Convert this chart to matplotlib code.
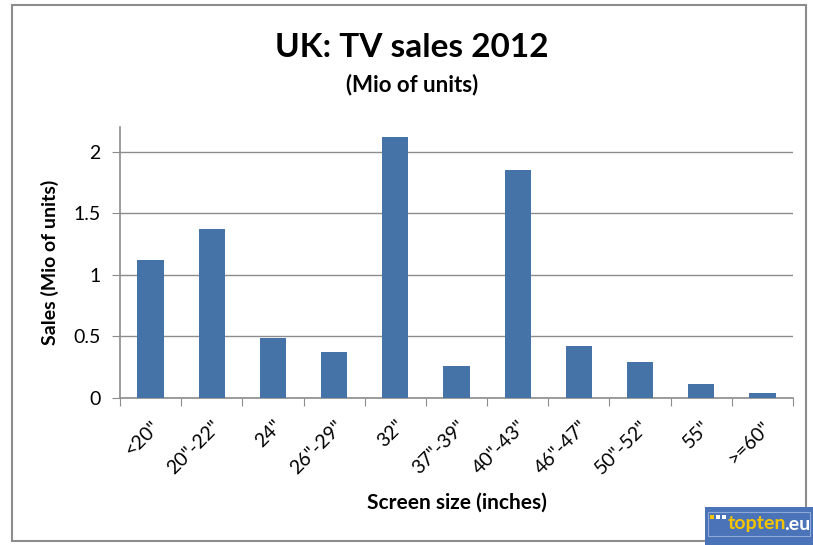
import matplotlib
matplotlib.use("Agg")
import matplotlib.pyplot as plt
from matplotlib.patches import Rectangle

categories = ['<20"', '20"-22"', '24"', '26"-29"', '32"', '37"-39"', '40"-43"',
              '46"-47"', '50"-52"', '55"', '>=60"']
sales = [1.12, 1.37, 0.49, 0.37, 2.12, 0.26, 1.85, 0.42, 0.29, 0.11, 0.04]
yticks = [0, 0.5, 1, 1.5, 2]
ytick_labels = ['0', '0.5', '1', '1.5', '2']

plt.rcParams['font.family'] = ['Lato', 'DejaVu Sans']

fig = plt.figure(figsize=(8.13, 5.45), dpi=100)
fig.patch.set_facecolor('white')
# outer frame
fig.add_artist(Rectangle((12/813, 4/545), 794/813, 536/545, transform=fig.transFigure,
                         fill=False, edgecolor='#8c8c8c', linewidth=1.5))

ax = fig.add_axes([120/813, 1-398/545, 673/813, 271/545])
x = list(range(len(categories)))
ax.bar(x, sales, width=0.43, color='#4572A7', zorder=3)
ax.set_xlim(-0.5, len(categories)-0.5)
ax.set_ylim(0, 2.2)
ax.set_yticks(yticks)
ax.set_yticklabels(ytick_labels, fontsize=14)
ax.yaxis.grid(True, color='#8c8c8c', linewidth=1, zorder=0)
for s in ['top', 'right']:
    ax.spines[s].set_visible(False)
for s in ['left', 'bottom']:
    ax.spines[s].set_color('#8c8c8c')
    ax.spines[s].set_linewidth(1.2)
ax.tick_params(axis='y', length=6, color='#8c8c8c', pad=8)
# x ticks at category boundaries
ax.set_xticks([i - 0.5 for i in range(len(categories)+1)])
ax.set_xticklabels([])
ax.tick_params(axis='x', length=6, color='#8c8c8c')
ax.set_xticks(x, minor=True)
ax.set_xticklabels(categories, minor=True, rotation=45, ha='right', va='top',
                   rotation_mode='anchor', fontsize=14)
ax.tick_params(axis='x', which='minor', length=0, pad=14)

ax.set_ylabel('Sales (Mio of units)', fontsize=14, fontweight='bold', labelpad=10)
fig.text((120+793)/2/813, 1-503/545, 'Screen size (inches)', fontsize=15,
         fontweight='bold', ha='center', va='center')
fig.text(412/813, 1-47/545, 'UK: TV sales 2012', fontsize=24, fontweight='bold',
         ha='center', va='center')
fig.text(412/813, 1-85/545, '(Mio of units)', fontsize=16, fontweight='bold',
         ha='center', va='center')

# topten logo
fig.add_artist(Rectangle((705/813, 0), 108/813, 38/545, transform=fig.transFigure,
                         facecolor='#4a73b8', edgecolor='none'))
fig.add_artist(Rectangle((708/813, 9/545), 102/813, 24/545, transform=fig.transFigure,
                         fill=False, edgecolor='#8ea9d8', linewidth=0.8))
fig.add_artist(Rectangle((710/813, 26/545), 4/813, 4/545, transform=fig.transFigure,
                         facecolor='#f5c400', edgecolor='none'))
fig.add_artist(Rectangle((716/813, 26/545), 4/813, 4/545, transform=fig.transFigure,
                         facecolor='white', edgecolor='none'))
fig.add_artist(Rectangle((722/813, 26/545), 4/813, 4/545, transform=fig.transFigure,
                         facecolor='white', edgecolor='none'))
fig.text(728/813, 1-524/545, 'topten', fontsize=14, fontweight='bold', color='#f5c400',
         ha='left', va='center')
fig.text(784/813, 1-524/545, '.eu', fontsize=14, fontweight='bold', color='white',
         ha='left', va='center')

fig.savefig('out.png', dpi=100)
